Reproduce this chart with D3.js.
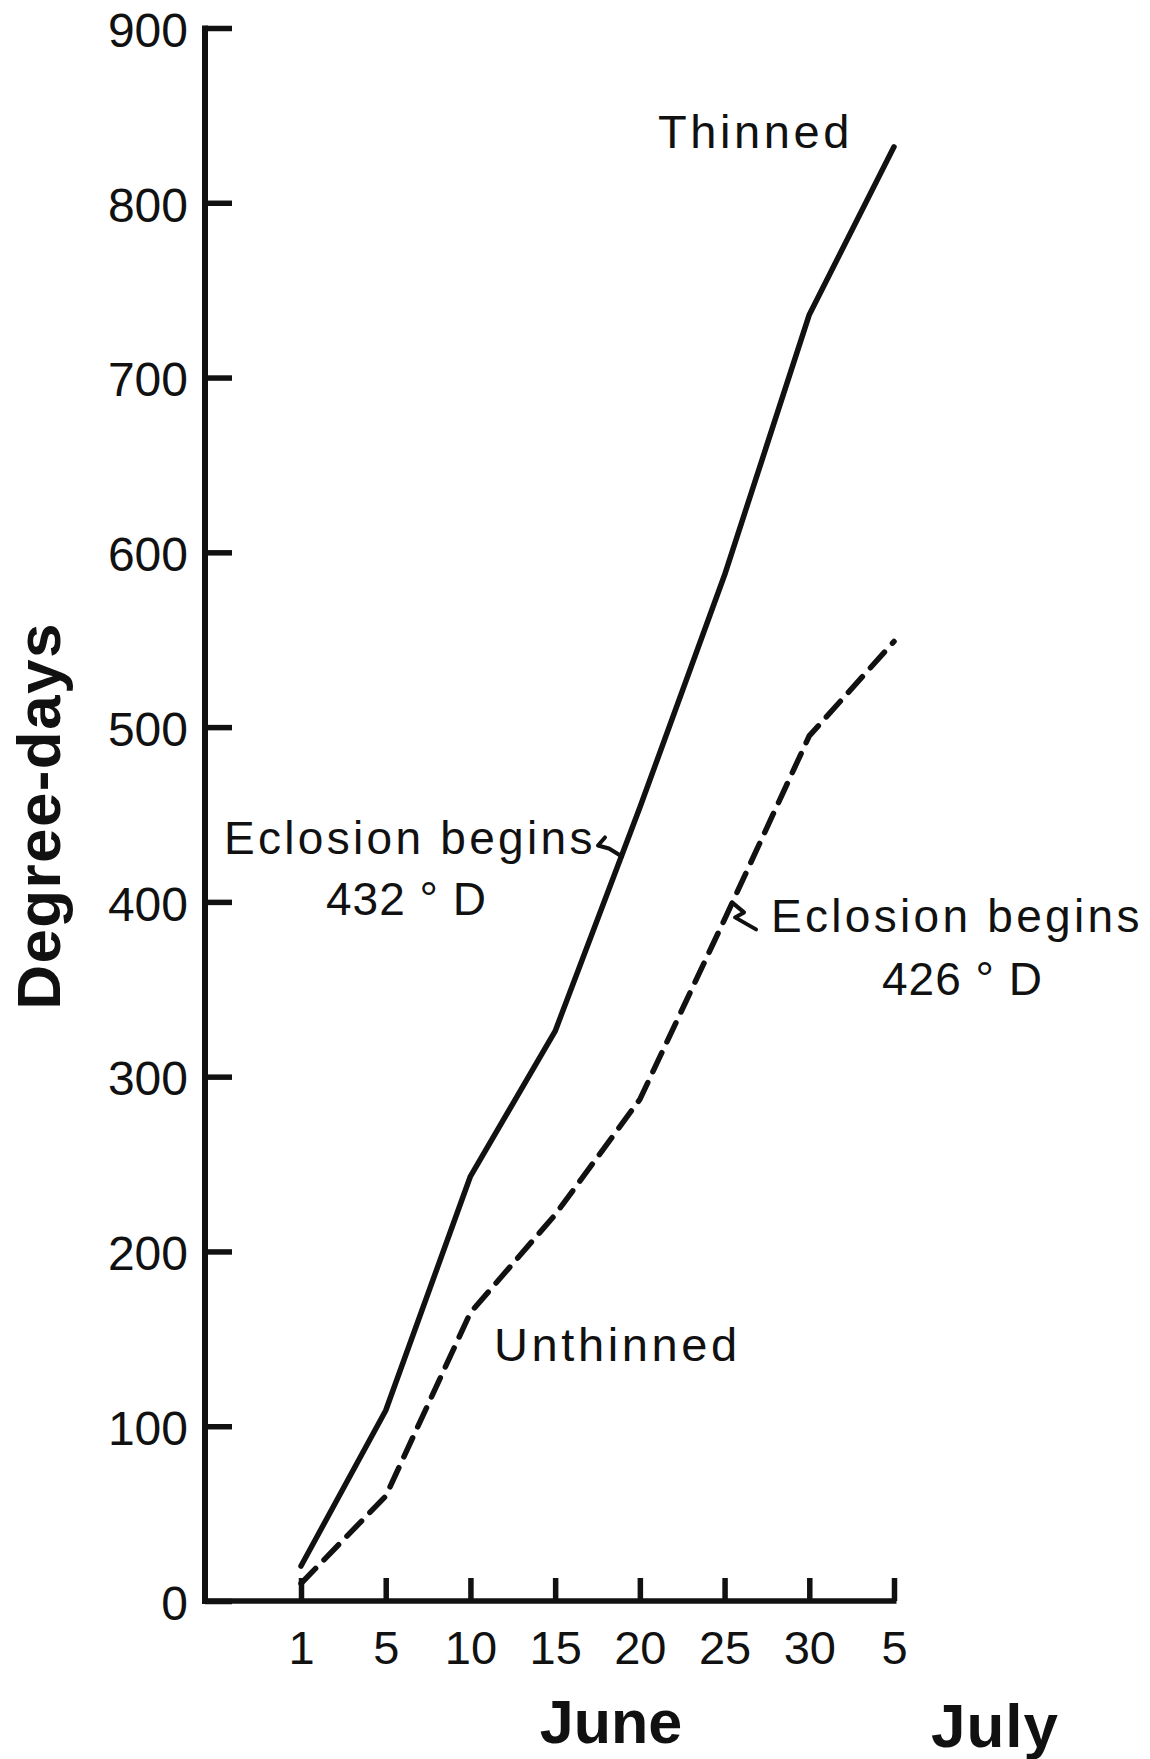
<!DOCTYPE html>
<html>
<head>
<meta charset="utf-8">
<script src="https://cdn.jsdelivr.net/npm/d3@7"></script>
<style>
  body { margin: 0; background: #fff; }
  svg { display: block; }
  text { font-family: "Liberation Sans", Arial, Helvetica, sans-serif; fill: #111; }
</style>
</head>
<body>
<svg width="1150" height="1759"></svg>
<script>
// dates along the x axis (evenly spaced in the original figure)
var dates = ["Jun 1", "Jun 5", "Jun 10", "Jun 15", "Jun 20", "Jun 25", "Jun 30", "Jul 5"];
var dateLabels = ["1", "5", "10", "15", "20", "25", "30", "5"];
var yTicks = [0, 100, 200, 300, 400, 500, 600, 700, 800, 900];

// accumulated degree-days
var thinned   = [20, 109, 243, 326, 454, 587, 736, 832];
var unthinned = [10, 60, 165, 221, 287, 390, 495, 549];

var svg = d3.select("svg");
var ink = "#111";

var x = d3.scalePoint()
    .domain(dates)
    .range([301, 894]);

var y = d3.scaleLinear()
    .domain([0, 900])
    .range([1601, 28]);

var axisX0 = 205;

// y axis, ticks pointing inwards
var yAxis = svg.append("g")
    .attr("transform", "translate(" + axisX0 + ",0)")
    .call(d3.axisLeft(y)
      .tickValues(yTicks)
      .tickSize(-27)
      .tickPadding(17)
      .tickFormat(d3.format("d")));

yAxis.select(".domain").remove();
yAxis.selectAll(".tick line").attr("stroke", ink).attr("stroke-width", 5.5);
yAxis.selectAll(".tick text")
    .attr("font-size", 48)
    .attr("dy", "0.38em")
    .style("fill", ink);

// x axis, ticks pointing up
var xAxis = svg.append("g")
    .attr("transform", "translate(0," + y(0) + ")")
    .call(d3.axisBottom(x)
      .tickSize(-23)
      .tickPadding(14)
      .tickFormat(function(d, i) { return dateLabels[i]; }));

xAxis.select(".domain").remove();
xAxis.selectAll(".tick line").attr("stroke", ink).attr("stroke-width", 5.5);
xAxis.selectAll(".tick text")
    .attr("font-size", 47)
    .attr("y", 30)
    .attr("dy", "0.71em")
    .style("fill", ink);

// axis lines
svg.append("line")
    .attr("x1", axisX0).attr("x2", axisX0)
    .attr("y1", y(900) - 2.5).attr("y2", y(0) + 3)
    .attr("stroke", ink).attr("stroke-width", 6);

svg.append("line")
    .attr("x1", axisX0).attr("x2", x("Jul 5") + 2.5)
    .attr("y1", y(0)).attr("y2", y(0))
    .attr("stroke", ink).attr("stroke-width", 5.5);

// series lines
var line = d3.line()
    .x(function(d, i) { return x(dates[i]); })
    .y(function(d) { return y(d); });

svg.append("path")
    .datum(thinned)
    .attr("d", line)
    .attr("fill", "none")
    .attr("stroke", ink)
    .attr("stroke-width", 5.5)
    .attr("stroke-linecap", "round")
    .attr("stroke-linejoin", "round");

svg.append("path")
    .datum(unthinned)
    .attr("d", line)
    .attr("fill", "none")
    .attr("stroke", ink)
    .attr("stroke-width", 5.5)
    .attr("stroke-dasharray", "21,12")
    .attr("stroke-linecap", "round");

// point on a series where it reaches a given value
function pointAt(series, v) {
  for (var i = 1; i < series.length; i++) {
    if (series[i] >= v) {
      var t = (v - series[i - 1]) / (series[i] - series[i - 1]);
      var xa = x(dates[i - 1]), xb = x(dates[i]);
      return [xa + t * (xb - xa), y(v)];
    }
  }
  return [x(dates[dates.length - 1]), y(series[series.length - 1])];
}

// labels
function label(txt, px, py, size, opts) {
  opts = opts || {};
  return svg.append("text")
    .attr("x", px).attr("y", py)
    .attr("font-size", size)
    .attr("font-weight", opts.bold ? "bold" : null)
    .attr("text-anchor", opts.anchor || "start")
    .attr("letter-spacing", opts.ls || 0)
    .text(txt);
}

label("Thinned", 658, 148, 47, {ls: 3.6});
label("Unthinned", 494, 1361, 47, {ls: 3.6});
label("Eclosion begins", 224, 854, 46, {ls: 3.3});
label("432 \u00b0 D", 326, 915, 46, {ls: 1});
label("Eclosion begins", 771, 932, 46, {ls: 3.3});
label("426 \u00b0 D", 882, 995, 46, {ls: 1});

label("June", 611, 1743, 61, {bold: true, anchor: "middle"});
label("July", 995, 1747, 62, {bold: true, anchor: "middle", ls: 1});

svg.append("text")
    .attr("transform", "translate(60,816) rotate(-90)")
    .attr("text-anchor", "middle")
    .attr("font-size", 62)
    .attr("font-weight", "bold")
    .attr("letter-spacing", 1.4)
    .text("Degree-days");

// small squiggle leaders from the text to the curves
var squiggle = d3.line().curve(d3.curveLinear);

var a1 = pointAt(thinned, 430);
svg.append("path")
    .attr("d", squiggle([[a1[0] - 19, a1[1] - 12], [a1[0] - 26, a1[1] - 4], [a1[0] - 15, a1[1] - 1], [a1[0] - 2, a1[1] + 7]]))
    .attr("fill", "none").attr("stroke", ink).attr("stroke-width", 4)
    .attr("stroke-linejoin", "round").attr("stroke-linecap", "round");

var a2 = pointAt(unthinned, 398);
svg.append("path")
    .attr("d", squiggle([[a2[0] + 1, a2[1] - 3], [a2[0] + 13, a2[1] + 7], [a2[0] + 4, a2[1] + 12], [a2[0] + 25, a2[1] + 24]]))
    .attr("fill", "none").attr("stroke", ink).attr("stroke-width", 4)
    .attr("stroke-linejoin", "round").attr("stroke-linecap", "round");
</script>
</body>
</html>
